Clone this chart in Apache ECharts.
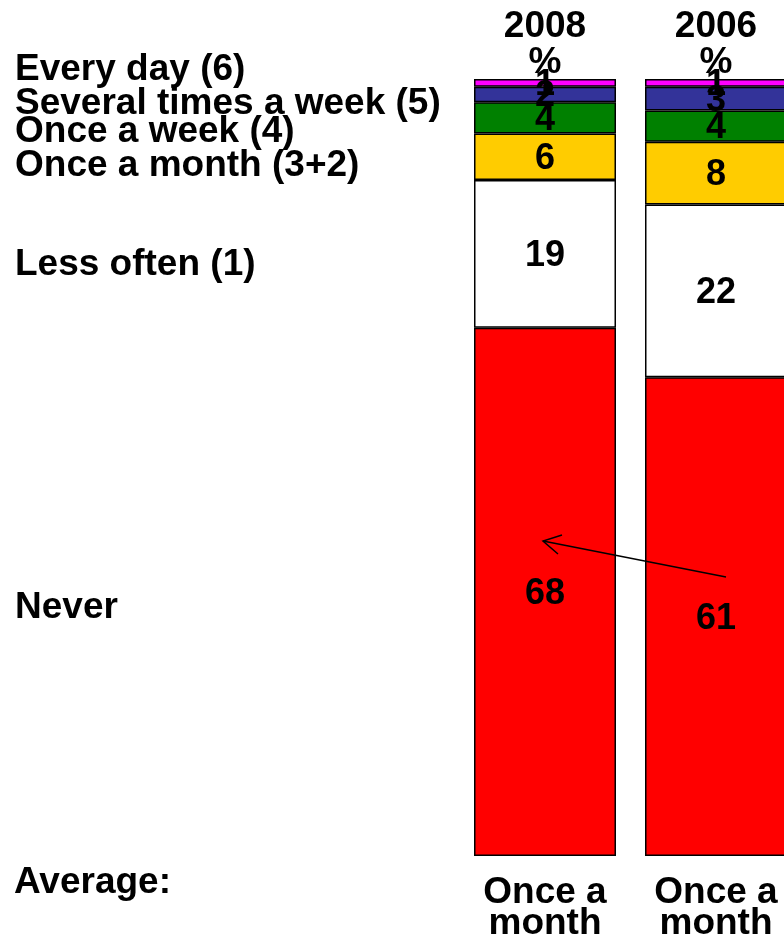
<!DOCTYPE html>
<html>
<head>
<meta charset="utf-8">
<script src="https://cdn.jsdelivr.net/npm/echarts@6/dist/echarts.min.js"></script>
<style>
  html, body { margin: 0; padding: 0; background: #fff; }
  #chart { width: 784px; height: 935px; }
</style>
</head>
<body>
<div id="chart"></div>
<script>
// Survey years shown as columns
const years = ['2008', '2006'];
// Frequency bands, top of the column first
const bands = ['Every day (6)', 'Several times a week (5)', 'Once a week (4)',
               'Once a month (3+2)', 'Less often (1)', 'Never'];
// Percentages per band, same order as bands
const values2008 = [1, 2, 4, 6, 19, 68];
const values2006 = [1, 3, 4, 8, 22, 61];
// Average frequency shown under each column
const averages = ['Once a\nmonth', 'Once a\nmonth'];

const bandColors = ['#ff00ff', '#333399', '#008000', '#ffcc00', '#ffffff', '#ff0000'];
const FONT = '"Liberation Sans", Arial, sans-serif';
const columnValues = [values2008, values2006];

const chart = echarts.init(document.getElementById('chart'), null, { renderer: 'canvas' });

// One grid per column so each column fills the full height
const colLeft = [474, 645];
const grids = colLeft.map(l => ({
  left: l, top: 79, width: 142, height: 777, outerBoundsMode: 'none', containLabel: false
}));

const xAxes = [];
const yAxes = [];
const series = [];
years.forEach((yr, gi) => {
  xAxes.push({
    type: 'category', gridIndex: gi, data: [yr], position: 'top',
    axisLine: { show: false }, axisTick: { show: false },
    axisLabel: {
      formatter: v => v + '\n%', fontFamily: FONT, fontWeight: 'bold',
      fontSize: 37, color: '#000', lineHeight: 36, margin: -2
    }
  });
  xAxes.push({
    type: 'category', gridIndex: gi, data: [averages[gi]], position: 'bottom',
    axisLine: { show: false }, axisTick: { show: false },
    axisLabel: {
      fontFamily: FONT, fontWeight: 'bold', fontSize: 37, color: '#000',
      lineHeight: 31, margin: 21
    }
  });
  const total = columnValues[gi].reduce((a, b) => a + b, 0);
  yAxes.push({ type: 'value', gridIndex: gi, min: 0, max: total, show: false, inverse: true });
  bands.forEach((b, bi) => {
    series.push({
      type: 'bar', name: b, xAxisIndex: gi * 2, yAxisIndex: gi, stack: 'col' + gi,
      barWidth: '100%',
      data: [columnValues[gi][bi]],
      itemStyle: { color: bandColors[bi], borderColor: '#000', borderWidth: 1.5 },
      label: {
        show: true, position: 'inside', fontFamily: FONT, fontWeight: 'bold',
        fontSize: 36, color: '#000', offset: [0, 2]
      },
      emphasis: { disabled: true },
      animation: false
    });
  });
});

// Band names down the left side
const bandLabelY = [70, 104, 132, 166, 265, 608];
const leftText = bands.map((b, i) => ({
  type: 'text', x: 15, y: bandLabelY[i], z: 50,
  style: { text: b, font: 'bold 37px ' + FONT, fill: '#000', verticalAlign: 'middle' }
}));
leftText.push({
  type: 'text', x: 14, y: 883, z: 50,
  style: { text: 'Average:', font: 'bold 37px ' + FONT, fill: '#000', verticalAlign: 'middle' }
});

// Arrow from the 2006 "Never" share back to 2008
const arrow = [
  { type: 'line', z: 100, shape: { x1: 726, y1: 577, x2: 543, y2: 541 }, style: { stroke: '#000', lineWidth: 1.5 } },
  { type: 'polyline', z: 100, shape: { points: [[562, 535], [543, 541], [558, 554]] }, style: { stroke: '#000', lineWidth: 1.5, fill: null } }
];

chart.setOption({
  backgroundColor: '#fff',
  animation: false,
  grid: grids,
  xAxis: xAxes,
  yAxis: yAxes,
  series: series,
  graphic: leftText.concat(arrow)
});
</script>
</body>
</html>
